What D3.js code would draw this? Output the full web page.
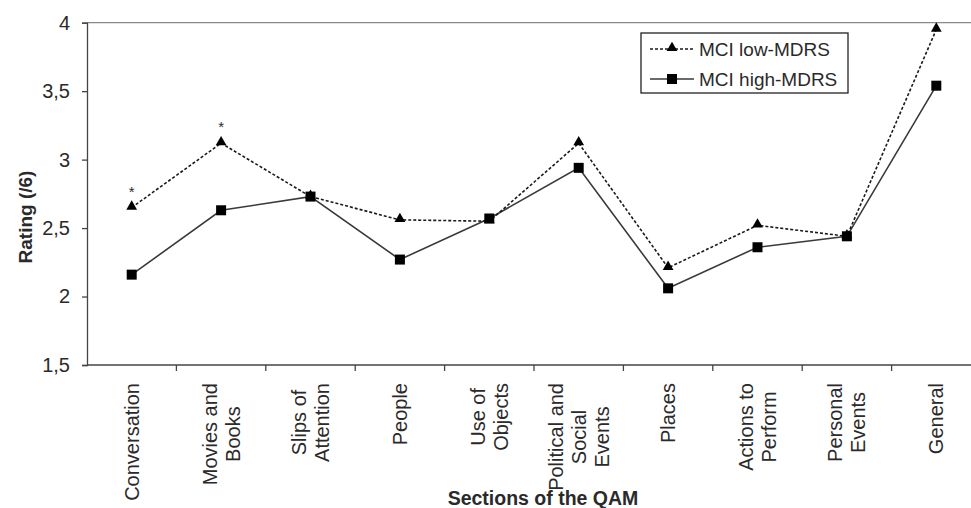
<!DOCTYPE html>
<html>
<head>
<meta charset="utf-8">
<script src="https://cdn.jsdelivr.net/npm/d3@7"></script>
<style>
  html, body { margin: 0; padding: 0; background: #fff; }
  svg { display: block; font-family: "Liberation Sans", Arial, sans-serif; }
</style>
</head>
<body>
<svg id="chart" width="971" height="508"></svg>
<script>
// ---- data ----
const categories = [
  ["Conversation"],
  ["Movies and", "Books"],
  ["Slips of", "Attention"],
  ["People"],
  ["Use of", "Objects"],
  ["Political and", "Social", "Events"],
  ["Places"],
  ["Actions to", "Perform"],
  ["Personal", "Events"],
  ["General"]
];
const lowMDRS  = [2.65, 3.12, 2.73, 2.56, 2.55, 3.12, 2.21, 2.52, 2.44, 3.95];
const highMDRS = [2.16, 2.63, 2.73, 2.27, 2.57, 2.94, 2.06, 2.36, 2.44, 3.54];
const significance = ["*", "*", "", "", "", "", "", "", "", ""];
const yTicks = [1.5, 2, 2.5, 3, 3.5, 4];
const seriesNames = ["MCI low-MDRS", "MCI high-MDRS"];

(function () {
// ---- layout ----
const svg = d3.select("#chart");
const pLeft = 87, pRight = 981, pTop = 22.7, pBottom = 365;
const textColor = "#2a2a2a";

const keys = categories.map((c, i) => i);
const x = d3.scaleBand().domain(keys).range([pLeft, pRight]);
const xc = i => x(i) + x.bandwidth() / 2;
const y = d3.scaleLinear().domain([1.5, 4]).range([pBottom, pTop]);

// top border of plot area
svg.append("line")
  .attr("x1", pLeft).attr("x2", 971).attr("y1", pTop).attr("y2", pTop)
  .attr("stroke", "#8a8a8a").attr("stroke-width", 1.3);

// y axis
const yAxis = svg.append("g").attr("transform", `translate(${pLeft},0)`)
  .call(d3.axisLeft(y).tickValues(yTicks).tickSize(5).tickPadding(12)
    .tickFormat(d => String(d).replace(".", ",")));
yAxis.select(".domain").attr("stroke", "#444").attr("stroke-width", 1.3);
yAxis.selectAll(".tick line").attr("stroke", "#444").attr("stroke-width", 1.3);
yAxis.selectAll(".tick text").attr("font-size", 20).attr("fill", textColor)
  .attr("font-family", "Liberation Sans, Arial, sans-serif");

// x axis (ticks at category boundaries)
const xAxisG = svg.append("g");
xAxisG.append("line").attr("x1", pLeft).attr("x2", 971)
  .attr("y1", pBottom).attr("y2", pBottom).attr("stroke", "#444").attr("stroke-width", 1.3);
xAxisG.selectAll("line.tk").data(keys.slice(1)).join("line").attr("class", "tk")
  .attr("x1", d => x(d)).attr("x2", d => x(d))
  .attr("y1", pBottom).attr("y2", pBottom + 6)
  .attr("stroke", "#444").attr("stroke-width", 1.3);

// x labels: rotated, top-anchored, lines centered within block
const lineH = 23;
const labelTop = 383;
categories.forEach((lines, i) => {
  const g = svg.append("g")
    .attr("transform", `translate(${xc(i)},${labelTop}) rotate(-90)`);
  const texts = lines.map((ln, j) => g.append("text")
    .text(ln)
    .attr("font-size", 20)
    .attr("fill", textColor)
    .attr("text-anchor", "middle")
    .attr("dy", "0.35em")
    .attr("y", (j - (lines.length - 1) / 2) * lineH));
  const maxW = d3.max(texts, t => t.node().getComputedTextLength());
  texts.forEach(t => t.attr("x", -maxW / 2));
});

// axis titles
svg.append("text")
  .attr("x", 543).attr("y", 505)
  .attr("text-anchor", "middle")
  .attr("font-size", 19.5).attr("font-weight", "bold").attr("fill", textColor)
  .text("Sections of the QAM");
svg.append("text")
  .attr("transform", "translate(32,217) rotate(-90)")
  .attr("text-anchor", "middle")
  .attr("font-size", 19).attr("font-weight", "bold").attr("fill", textColor)
  .text("Rating (/6)");

// lines
const lineGen = d3.line().x((d, i) => xc(i)).y(d => y(d));
svg.append("path").datum(highMDRS)
  .attr("d", lineGen).attr("fill", "none")
  .attr("stroke", "#3a3a3a").attr("stroke-width", 1.6);
svg.append("path").datum(lowMDRS)
  .attr("d", lineGen).attr("fill", "none")
  .attr("stroke", "#1a1a1a").attr("stroke-width", 1.6)
  .attr("stroke-dasharray", "3,2");

// markers
const tri = d3.symbol().type(d3.symbolTriangle).size(50);
svg.selectAll("path.tri").data(lowMDRS).join("path").attr("class", "tri")
  .attr("d", tri)
  .attr("transform", (d, i) => `translate(${xc(i)},${y(d) - 1})`)
  .attr("fill", "#000");
svg.selectAll("rect.sq").data(highMDRS).join("rect").attr("class", "sq")
  .attr("x", (d, i) => xc(i) - 5).attr("y", d => y(d) - 5)
  .attr("width", 10).attr("height", 10).attr("fill", "#000");

// significance asterisks
svg.selectAll("text.sig").data(lowMDRS).join("text").attr("class", "sig")
  .attr("x", (d, i) => xc(i)).attr("y", d => y(d) - 11)
  .attr("text-anchor", "middle")
  .attr("font-size", 15).attr("fill", textColor)
  .text((d, i) => significance[i]);

// legend
const lg = svg.append("g");
const lgX = 641, lgY = 33, lgW = 207, lgH = 60;
lg.append("rect").attr("x", lgX).attr("y", lgY).attr("width", lgW).attr("height", lgH)
  .attr("fill", "#fff").attr("stroke", "#222").attr("stroke-width", 1.3);
const rows = [
  { name: seriesNames[0], dash: "3,2", stroke: "#1a1a1a", marker: "tri", cy: 49 },
  { name: seriesNames[1], dash: null, stroke: "#3a3a3a", marker: "sq", cy: 79 }
];
rows.forEach(r => {
  lg.append("line").attr("x1", lgX + 9).attr("x2", lgX + 53)
    .attr("y1", r.cy).attr("y2", r.cy)
    .attr("stroke", r.stroke).attr("stroke-width", 1.6)
    .attr("stroke-dasharray", r.dash);
  if (r.marker === "tri") {
    lg.append("path").attr("d", tri)
      .attr("transform", `translate(${lgX + 31},${r.cy - 1})`).attr("fill", "#000");
  } else {
    lg.append("rect").attr("x", lgX + 26).attr("y", r.cy - 5)
      .attr("width", 10).attr("height", 10).attr("fill", "#000");
  }
  lg.append("text").attr("x", lgX + 58).attr("y", r.cy).attr("dy", "0.35em")
    .attr("font-size", 19).attr("fill", textColor).text(r.name);
});
})();
</script>
</body>
</html>
